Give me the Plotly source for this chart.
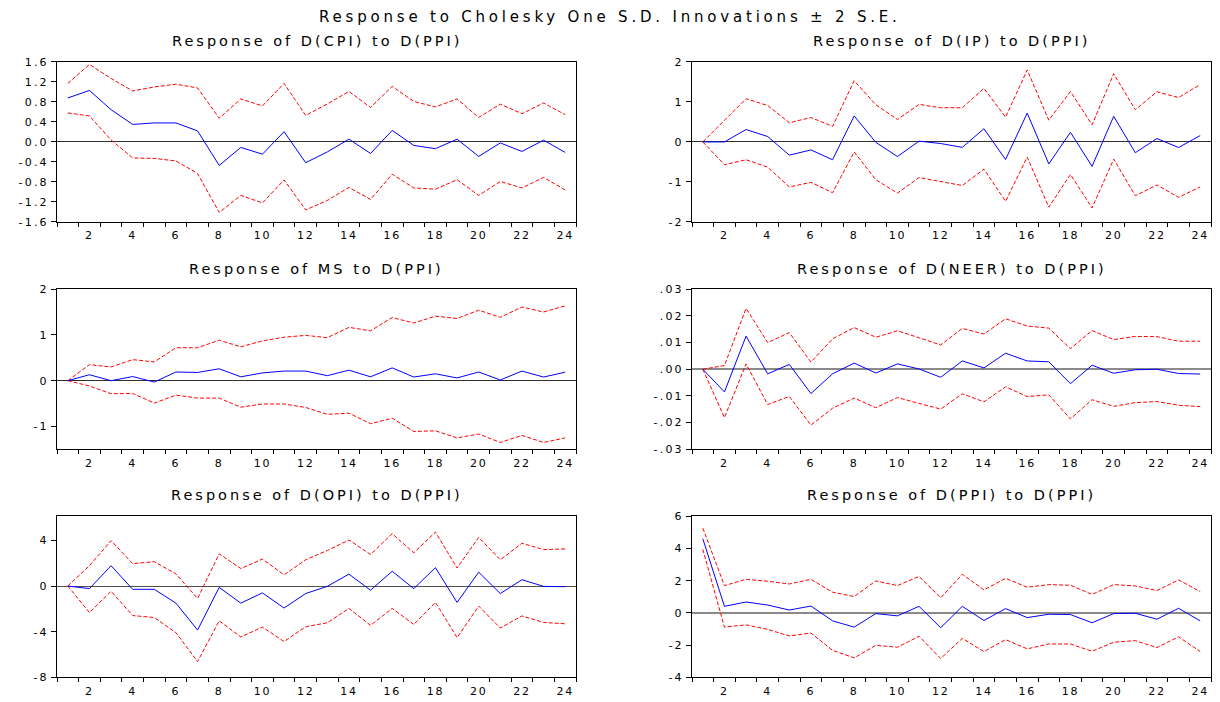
import plotly.graph_objects as go

periods = list(range(1, 25))

# ---- Response of D(CPI) to D(PPI)
cpi_resp = [0.88, 1.03, 0.645, 0.35, 0.38, 0.38, 0.22, -0.47, -0.11, -0.245, 0.205, -0.415,
            -0.20, 0.055, -0.23, 0.23, -0.07, -0.135, 0.055, -0.29, -0.02, -0.19, 0.035, -0.21]
cpi_upper = [1.17, 1.55, 1.27, 1.02, 1.10, 1.155, 1.08, 0.475, 0.86, 0.72, 1.17, 0.53,
             0.76, 1.01, 0.69, 1.11, 0.81, 0.70, 0.86, 0.49, 0.755, 0.565, 0.78, 0.545]
cpi_lower = [0.58, 0.52, 0.04, -0.32, -0.33, -0.38, -0.63, -1.41, -1.07, -1.22, -0.76, -1.36,
             -1.17, -0.91, -1.15, -0.645, -0.92, -0.945, -0.755, -1.07, -0.79, -0.92, -0.71, -0.96]
cpi_ticks = [1.6, 1.2, 0.8, 0.4, 0.0, -0.4, -0.8, -1.2, -1.6]
cpi_labels = ["1.6", "1.2", "0.8", "0.4", "0.0", "-0.4", "-0.8", "-1.2", "-1.6"]

# ---- Response of D(IP) to D(PPI)
ip_resp = [0.0, 0.0, 0.31, 0.135, -0.33, -0.20, -0.445, 0.65, -0.01, -0.365, 0.02, -0.04,
           -0.135, 0.33, -0.44, 0.72, -0.55, 0.24, -0.61, 0.64, -0.27, 0.085, -0.14, 0.16]
ip_upper = [0.0, 0.545, 1.08, 0.91, 0.48, 0.61, 0.39, 1.53, 0.93, 0.56, 0.94, 0.855,
            0.855, 1.34, 0.62, 1.80, 0.545, 1.26, 0.43, 1.705, 0.805, 1.255, 1.11, 1.435]
ip_lower = [0.0, -0.57, -0.445, -0.63, -1.125, -1.01, -1.27, -0.25, -0.945, -1.28, -0.89, -0.985,
            -1.09, -0.68, -1.485, -0.38, -1.63, -0.815, -1.65, -0.43, -1.345, -1.075, -1.385, -1.125]
ip_ticks = [2, 1, 0, -1, -2]
ip_labels = ["2", "1", "0", "-1", "-2"]

# ---- Response of MS to D(PPI)
ms_resp = [0.0, 0.13, 0.0, 0.09, -0.03, 0.19, 0.18, 0.26, 0.085, 0.17, 0.21, 0.21,
           0.11, 0.23, 0.085, 0.28, 0.08, 0.15, 0.06, 0.19, 0.015, 0.21, 0.08, 0.185]
ms_upper = [0.0, 0.35, 0.30, 0.46, 0.41, 0.72, 0.72, 0.885, 0.74, 0.87, 0.95, 0.99,
            0.94, 1.165, 1.09, 1.38, 1.26, 1.41, 1.36, 1.54, 1.385, 1.61, 1.50, 1.635]
ms_lower = [0.0, -0.115, -0.285, -0.28, -0.49, -0.315, -0.38, -0.38, -0.58, -0.51, -0.51, -0.585,
            -0.735, -0.71, -0.94, -0.82, -1.11, -1.095, -1.25, -1.165, -1.35, -1.195, -1.35, -1.25]
ms_ticks = [2, 1, 0, -1]
ms_labels = ["2", "1", "0", "-1"]

# ---- Response of D(NEER) to D(PPI)
neer_resp = [0.0, -0.0085, 0.0124, -0.0017, 0.0018, -0.0091, -0.0017, 0.0023, -0.0014, 0.0020,
             0.0001, -0.0030, 0.0031, 0.0005, 0.0060, 0.0031, 0.0028, -0.0054, 0.0015, -0.0015,
             -0.0002, 0.0, -0.0016, -0.0018]
neer_upper = [0.0, 0.0014, 0.0228, 0.0100, 0.0137, 0.0027, 0.0114, 0.0156, 0.0120, 0.0144,
              0.0118, 0.0091, 0.0153, 0.0132, 0.0189, 0.0162, 0.0154, 0.0077, 0.0145, 0.0111,
              0.0123, 0.0122, 0.0105, 0.0105]
neer_lower = [0.0, -0.0181, 0.0020, -0.0132, -0.0102, -0.0209, -0.0146, -0.0108, -0.0144, -0.0106,
              -0.0128, -0.0149, -0.0092, -0.0122, -0.0066, -0.0102, -0.0096, -0.0186, -0.0114, -0.0139,
              -0.0125, -0.0121, -0.0135, -0.0140]
neer_ticks = [0.03, 0.02, 0.01, 0.0, -0.01, -0.02, -0.03]
neer_labels = [".03", ".02", ".01", ".00", "-.01", "-.02", "-.03"]

# ---- Response of D(OPI) to D(PPI)
opi_resp = [0.0, -0.23, 1.78, -0.29, -0.29, -1.5, -3.86, -0.12, -1.5, -0.6, -1.93, -0.66,
            -0.03, 1.04, -0.37, 1.29, -0.23, 1.61, -1.44, 1.21, -0.66, 0.55, -0.03, -0.06]
opi_upper = [0.0, 1.78, 3.97, 1.96, 2.13, 1.06, -1.09, 2.82, 1.53, 2.36, 0.98, 2.30,
             3.11, 4.03, 2.76, 4.58, 2.91, 4.72, 1.58, 4.26, 2.30, 3.74, 3.19, 3.25]
opi_lower = [0.0, -2.33, -0.46, -2.59, -2.76, -4.09, -6.62, -3.05, -4.46, -3.60, -4.86, -3.57,
             -3.22, -1.96, -3.45, -1.96, -3.37, -1.44, -4.52, -1.76, -3.68, -2.62, -3.19, -3.31]
opi_ticks = [4, 0, -4, -8]
opi_labels = ["4", "0", "-4", "-8"]

# ---- Response of D(PPI) to D(PPI)
ppi_resp = [4.61, 0.41, 0.68, 0.49, 0.18, 0.43, -0.49, -0.88, -0.04, -0.18, 0.41, -0.92,
            0.41, -0.47, 0.27, -0.29, -0.08, -0.10, -0.61, -0.04, -0.02, -0.39, 0.29, -0.49]
ppi_upper = [5.27, 1.70, 2.09, 1.97, 1.80, 2.09, 1.29, 1.02, 1.99, 1.70, 2.27, 0.94,
             2.40, 1.43, 2.15, 1.60, 1.76, 1.72, 1.15, 1.76, 1.68, 1.39, 2.05, 1.33]
ppi_lower = [3.95, -0.88, -0.74, -1.02, -1.43, -1.25, -2.32, -2.79, -2.01, -2.13, -1.45, -2.83,
             -1.58, -2.40, -1.66, -2.23, -1.93, -1.93, -2.38, -1.82, -1.72, -2.15, -1.48, -2.40]
ppi_ticks = [6, 4, 2, 0, -2, -4]
ppi_labels = ["6", "4", "2", "0", "-2", "-4"]

x_ticks = list(range(2, 25, 2))
x_labels = [str(v) for v in x_ticks]
x_minor = [v + 0.5 for v in range(0, 25)]

main_title = "Response to Cholesky One S.D. Innovations \u00b1 2 S.E."

FONT = "DejaVu Sans"


def spaced(t, ls):
    return f'<span style="letter-spacing:{ls}px">{t}</span>'


panels = [
    ("Response of D(CPI) to D(PPI)", cpi_resp, cpi_upper, cpi_lower, [-1.6, 1.6], cpi_ticks, cpi_labels, "#303030", 1, 0, 0),
    ("Response of D(IP) to D(PPI)", ip_resp, ip_upper, ip_lower, [-2, 2], ip_ticks, ip_labels, "#303030", 1, 0, 1),
    ("Response of MS to D(PPI)", ms_resp, ms_upper, ms_lower, [-1.5, 2], ms_ticks, ms_labels, "#303030", 1, 1, 0),
    ("Response of D(NEER) to D(PPI)", neer_resp, neer_upper, neer_lower, [-0.03, 0.03], neer_ticks, neer_labels, "#8a8a8a", 2, 1, 1),
    ("Response of D(OPI) to D(PPI)", opi_resp, opi_upper, opi_lower, [-8, 6.1], opi_ticks, opi_labels, "#505050", 1, 2, 0),
    ("Response of D(PPI) to D(PPI)", ppi_resp, ppi_upper, ppi_lower, [-4, 6], ppi_ticks, ppi_labels, "#8a8a8a", 2, 2, 1),
]

W, H = 1220, 702
col_px = [(57, 576), (692, 1211)]
row_px = [(57, 220), (288.5, 451.7), (520, 684)]
title_y_px = [36, 268, 498]

fig = go.Figure()
annotations = []
for i, (title, resp, up, lo, yr, yt, yl, zc, zw, r, c) in enumerate(panels):
    n = "" if i == 0 else str(i + 1)
    xa, ya = "x" + n, "y" + n
    xd = [col_px[c][0] / W, col_px[c][1] / W]
    yd = [1 - row_px[r][1] / H, 1 - row_px[r][0] / H]
    for ys, color, dash in ((up, "#ff0000", "4px,2px"), (lo, "#ff0000", "4px,2px"), (resp, "#0000ff", "solid")):
        fig.add_trace(go.Scatter(x=periods, y=ys, mode="lines", xaxis=xa, yaxis=ya,
                                 line=dict(color=color, width=1, dash=dash),
                                 showlegend=False, hoverinfo="skip"))
    fig.layout["xaxis" + n] = dict(
        domain=xd, anchor=ya, range=[0.5, 24.5],
        tickmode="array", tickvals=x_ticks, ticktext=[spaced(t, 1.8) for t in x_labels],
        ticks="outside", ticklen=3, tickcolor="rgba(0,0,0,0)",
        minor=dict(tickmode="array", tickvals=x_minor, ticks="outside", ticklen=4,
                   tickcolor="black", tickwidth=1, showgrid=False),
        showgrid=False, zeroline=False, showline=True, linecolor="black", linewidth=1,
        mirror=True, tickfont=dict(family=FONT, size=11, color="black"), fixedrange=True,
    )
    fig.layout["yaxis" + n] = dict(
        domain=yd, anchor=xa, range=yr,
        tickmode="array", tickvals=yt, ticktext=[spaced(t, 2.2) for t in yl],
        ticks="outside", ticklen=5, tickcolor="black", tickwidth=1,
        showgrid=False, zeroline=True, zerolinecolor=zc, zerolinewidth=zw,
        showline=True, linecolor="black", linewidth=1, mirror=True,
        tickfont=dict(family=FONT, size=11, color="black"), fixedrange=True,
    )
    annotations.append(dict(
        text=spaced(title, 3), xref="paper", yref="paper",
        x=(xd[0] + xd[1]) / 2, y=1 - title_y_px[r] / H,
        xanchor="center", yanchor="middle", showarrow=False,
        font=dict(family=FONT, size=14.5, color="black"),
    ))

annotations.append(dict(
    text=spaced(main_title, 3.8), xref="paper", yref="paper",
    x=0.5, y=1 - 11 / H, xanchor="center", yanchor="middle", showarrow=False,
    font=dict(family=FONT, size=15, color="black"),
))

fig.update_layout(
    width=W, height=H, autosize=False,
    margin=dict(l=0, r=0, t=0, b=0),
    paper_bgcolor="white", plot_bgcolor="white",
    annotations=annotations, hovermode=False,
)

fig.write_html("out.html", config={"displayModeBar": False})
